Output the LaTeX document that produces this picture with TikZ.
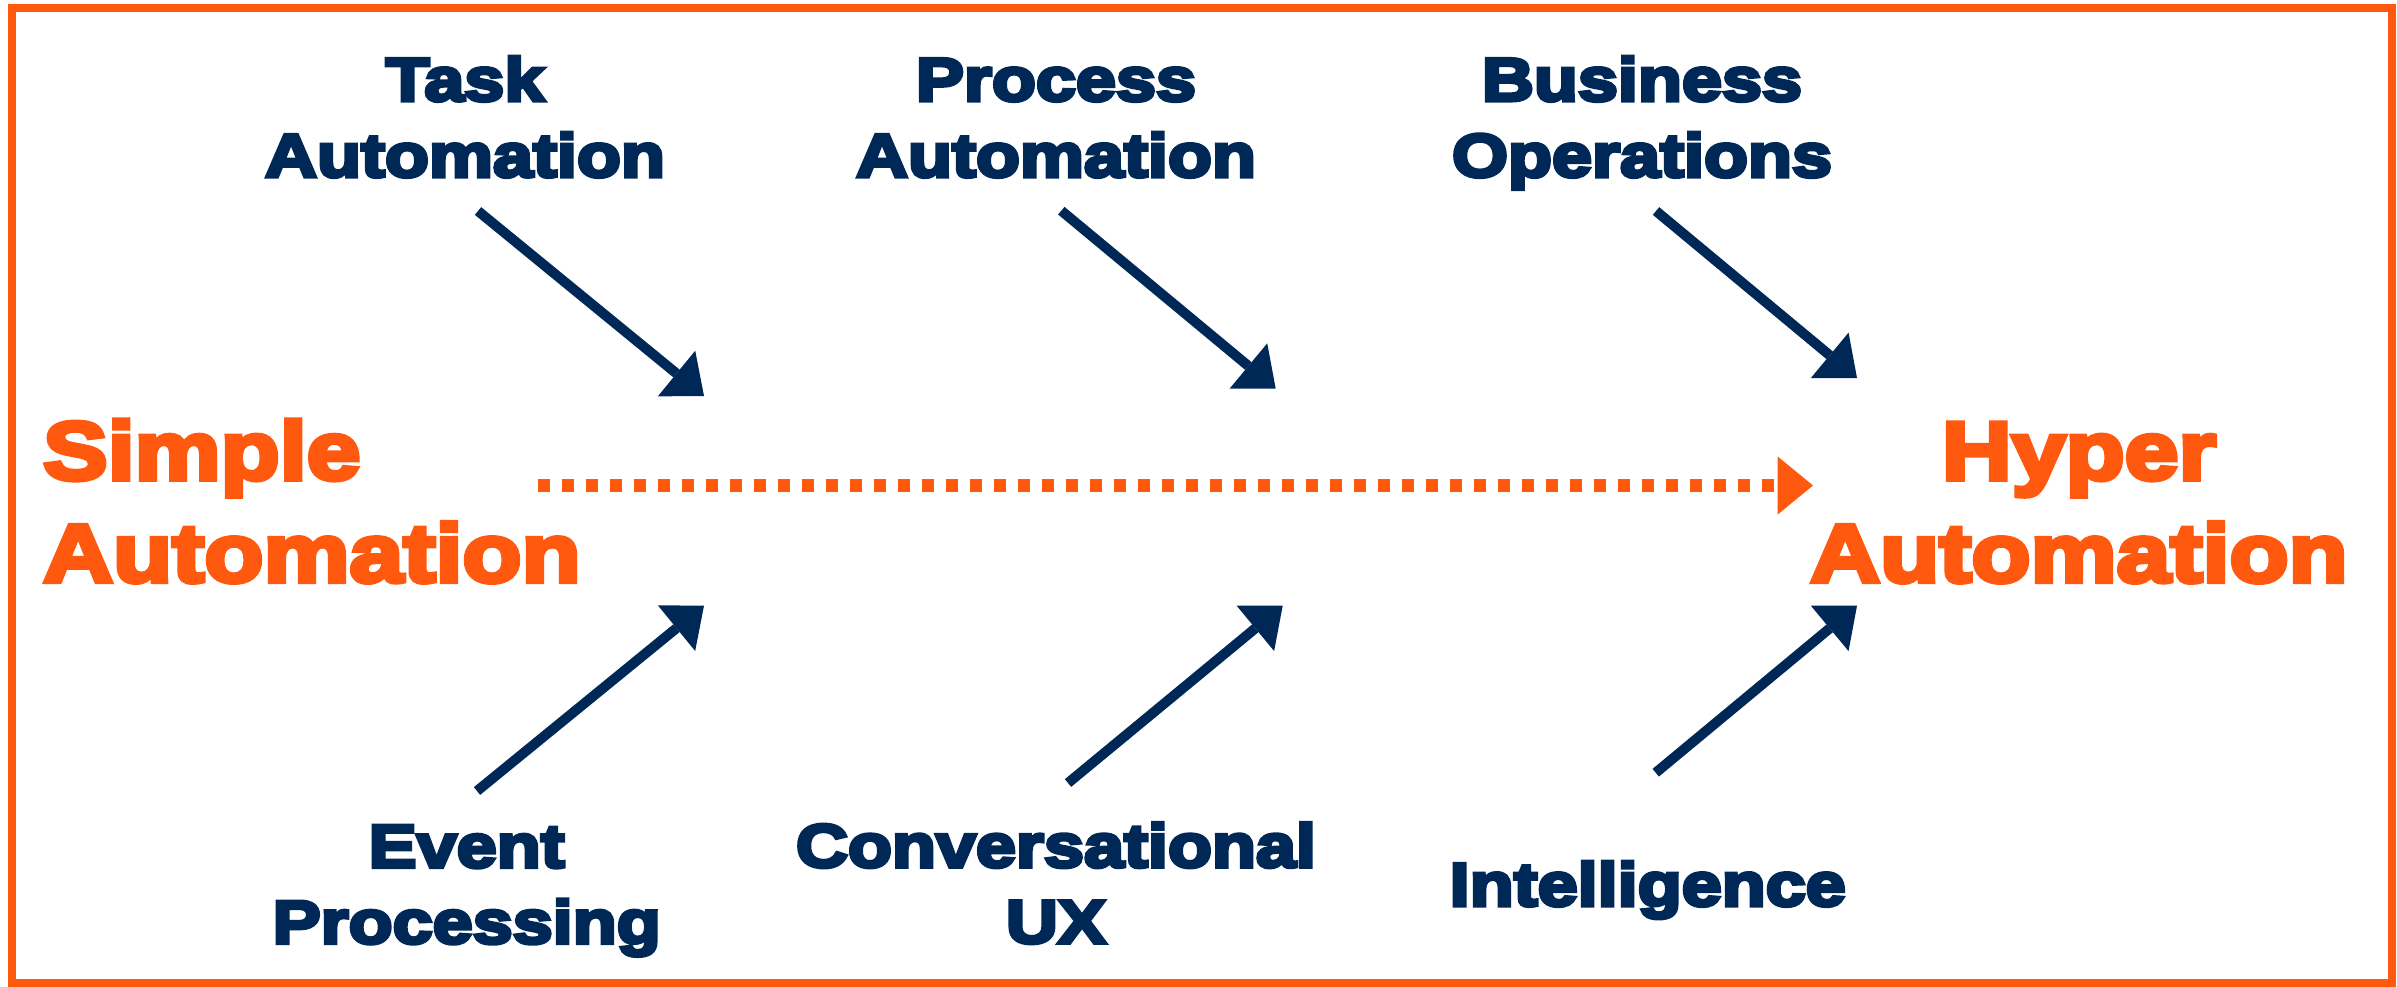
\documentclass[tikz,border=0pt]{standalone}
\usepackage{fontspec}
\usetikzlibrary{arrows.meta}
\newfontfamily\heavyfont{Liberation Sans Bold}[FakeStretch=1.18, FakeBold=6]
\definecolor{navyblue}{RGB}{0,40,87}
\definecolor{hyorange}{RGB}{255,88,15}
\newcommand\twolinesc[2]{\begin{tabular}[t]{@{}c@{}}#1\\#2\end{tabular}}
\newcommand\twolinesl[2]{\begin{tabular}[t]{@{}l@{}}#1\\#2\end{tabular}}
\begin{document}
\begin{tikzpicture}[x=1pt,y=-1pt,
  lab/.style={font=\heavyfont\fontsize{61}{76}\selectfont, text=navyblue, inner sep=0pt, anchor=base},
  big/.style={font=\heavyfont\fontsize{82}{102.4}\selectfont, text=hyorange, inner sep=0pt},
  navyarrow/.style={draw=navyblue, line width=10pt, -{Triangle[length=35.5pt,width=59pt,line width=0pt]}},
  dotarrow/.style={draw=hyorange, line width=12.3pt, dash pattern=on 12.3pt off 11.7pt, -{Triangle[length=35.3pt,width=58pt,line width=0pt]}}]
\useasboundingbox (0,0) rectangle (2397,986);
\draw[hyorange, line width=8pt] (12,8) rectangle (2392,983);
% labels
\node[lab] (task) at (465,100.7) {\twolinesc{Task}{Automation}};
\node[lab] (proc) at (1056,100.7) {\twolinesc{Process}{Automation}};
\node[lab] (bus) at (1642,100.7) {\twolinesc{Business}{Operations}};
\node[lab] (event) at (466.7,867.3) {\twolinesc{Event}{Processing}};
\node[lab] (conv) at (1056,867) {\twolinesc{Conversational}{UX}};
\node[lab] (intel) at (1647.7,905.7) {Intelligence};
\node[big, anchor=base west] (simple) at (43,479.3) {\twolinesl{Simple}{Automation}};
\node[big, anchor=base] (hyper) at (2079,479.3) {\twolinesc{Hyper}{Automation}};
% arrow coordinates
\coordinate (tA) at (478,211);      \coordinate (tAe) at (704,396);
\coordinate (pA) at (1061.3,210.7); \coordinate (pAe) at (1275.7,388.7);
\coordinate (bO) at (1656,211);     \coordinate (bOe) at (1857,378);
\coordinate (eP) at (477,791);      \coordinate (ePe) at (704,605.7);
\coordinate (cU) at (1068,783);     \coordinate (cUe) at (1282.7,605.7);
\coordinate (iN) at (1655.7,772.7); \coordinate (iNe) at (1857,605.7);
\coordinate (d0) at (538,485.5);    \coordinate (d1) at (1813,485.5);
\draw[navyarrow] (tA) -- (tAe);
\draw[navyarrow] (pA) -- (pAe);
\draw[navyarrow] (bO) -- (bOe);
\draw[navyarrow] (eP) -- (ePe);
\draw[navyarrow] (cU) -- (cUe);
\draw[navyarrow] (iN) -- (iNe);
\draw[dotarrow] (d0) -- (d1);
\end{tikzpicture}
\end{document}
